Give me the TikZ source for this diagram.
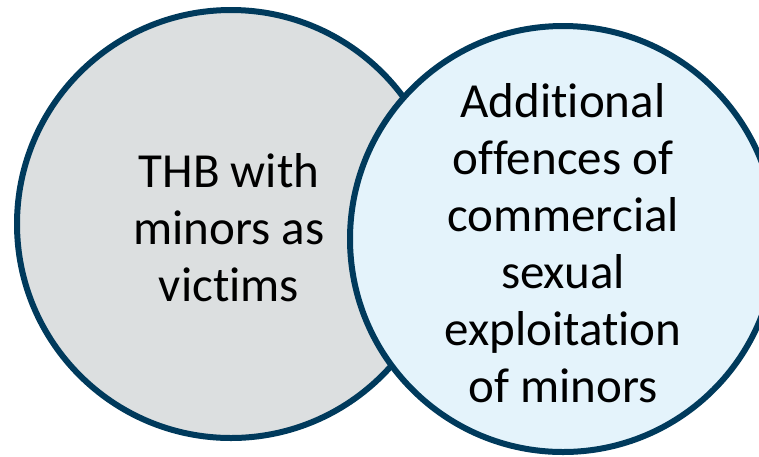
\documentclass[tikz,border=0pt]{standalone}
\usepackage{fontspec}
\setmainfont{Carlito}[Ligatures={NoCommon}]
\definecolor{edge}{HTML}{003A5C}
\definecolor{leftfill}{HTML}{DCDFE0}
\definecolor{rightfill}{HTML}{E4F3FB}
\tikzset{
  venn/.style={draw=edge, line width=6pt},
  vtext/.style={align=center, font=\fontsize{49}{57}\selectfont, text=black, inner sep=0pt}
}
\begin{document}
\begin{tikzpicture}[x=1pt,y=-1pt]
\useasboundingbox (0,0) rectangle (759,456);
\begin{scope}
\clip (0,0) rectangle (759,456);
\path[venn, fill=leftfill] (231,224) circle[radius=214];
\path[venn, fill=rightfill] (563,239) circle[radius=213];
\end{scope}
\node[vtext] (thb) at (229,228) {THB with\\minors as\\victims};
\node[vtext] (add) at (563,243) {Additional\\offences of\\commercial\\sexual\\exploitation\\of minors};
\end{tikzpicture}
\end{document}
